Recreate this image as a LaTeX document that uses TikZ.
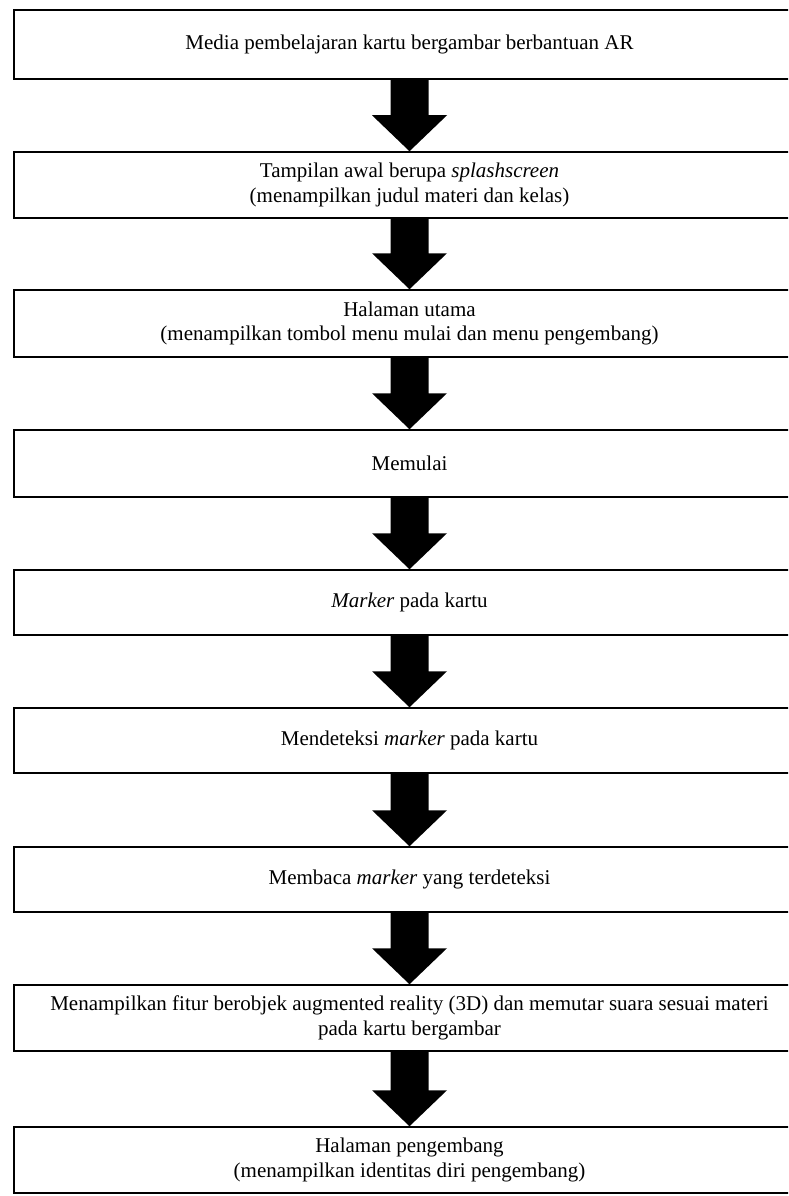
\documentclass[tikz,border=0pt]{standalone}
\usepackage{fontspec}
\setmainfont{Liberation Serif}
\usetikzlibrary{calc}
\newcommand{\blkarrow}[2]{%
  \fill[black] ($(#1.south)+(-19,0)$) -- ($(#2.north)+(-19,-36)$) -- ($(#2.north)+(-37.5,-36)$)
    -- (#2.north) -- ($(#2.north)+(37.5,-36)$) -- ($(#2.north)+(19,-36)$)
    -- ($(#1.south)+(19,0)$) -- cycle;}
\begin{document}
\begin{tikzpicture}[x=1pt,y=-1pt,
  stepbox/.style={draw=black, line width=1.5pt, rectangle, fill=white,
    minimum width=791pt, inner sep=0pt, align=center,
    font=\fontsize{21}{24.5}\selectfont}]
\useasboundingbox (0,0) rectangle (788,1196);
\fill[white] (0,0) rectangle (788,1196);
\clip (0,0) rectangle (788,1196);
\node[stepbox, minimum height=69pt] (b1) at (409.5,44.5) {Media pembelajaran kartu bergambar berbantuan AR};
\node[stepbox, minimum height=66pt] (b2) at (409.5,185) {Tampilan awal berupa \textit{splashscreen}\\(menampilkan judul materi dan kelas)};
\node[stepbox, minimum height=67pt] (b3) at (409.5,323.5) {Halaman utama\\(menampilkan tombol menu mulai dan menu pengembang)};
\node[stepbox, minimum height=67pt] (b4) at (409.5,463.5) {Memulai};
\node[stepbox, minimum height=65pt] (b5) at (409.5,602.5) {\textit{Marker} pada kartu};
\node[stepbox, minimum height=65pt] (b6) at (409.5,740.5) {Mendeteksi \textit{marker} pada kartu};
\node[stepbox, minimum height=65pt] (b7) at (409.5,879.5) {Membaca \textit{marker} yang terdeteksi};
\node[stepbox, minimum height=66pt] (b8) at (409.5,1018) {Menampilkan fitur berobjek augmented reality (3D) dan memutar suara sesuai materi\\pada kartu bergambar};
\node[stepbox, minimum height=66pt] (b9) at (409.5,1160) {Halaman pengembang\\(menampilkan identitas diri pengembang)};
\blkarrow{b1}{b2}
\blkarrow{b2}{b3}
\blkarrow{b3}{b4}
\blkarrow{b4}{b5}
\blkarrow{b5}{b6}
\blkarrow{b6}{b7}
\blkarrow{b7}{b8}
\blkarrow{b8}{b9}
\end{tikzpicture}
\end{document}
